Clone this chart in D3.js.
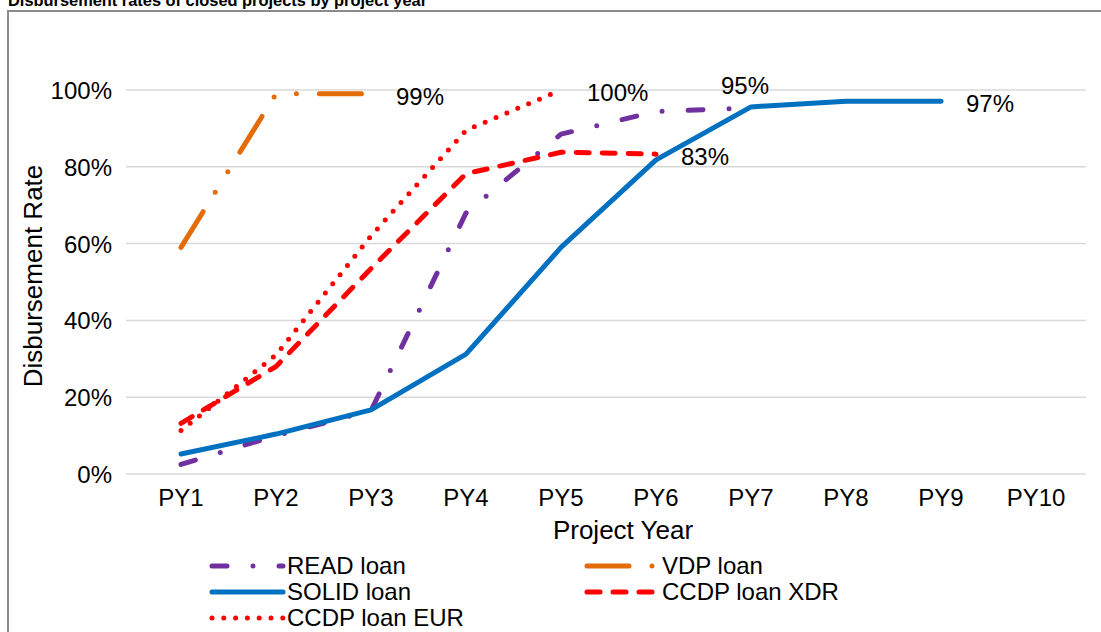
<!DOCTYPE html>
<html><head><meta charset="utf-8">
<script src="https://cdn.jsdelivr.net/npm/d3@7"></script>
<style>
html,body{margin:0;padding:0;background:#fff;overflow:hidden}
text{font-family:"Liberation Sans",Arial,sans-serif;fill:#000}
</style></head>
<body><svg id="c" width="1101" height="632"></svg>
<script>
// ---- data ----
const categories = ["PY1","PY2","PY3","PY4","PY5","PY6","PY7","PY8","PY9","PY10"];
const yTicks = [0,0.2,0.4,0.6,0.8,1.0];
const seriesNames = ["READ loan","VDP loan","SOLID loan","CCDP loan XDR","CCDP loan EUR"];
const readLoan  = [0.025,0.10,0.165,0.68,0.885,0.944,0.953];
const vdpLoan   = [0.59,0.99,0.99];
const solidLoan = [0.052,0.104,0.167,0.312,0.59,0.818,0.956,0.971,0.971];
const ccdpXdr   = [0.132,0.28,0.535,0.782,0.838,0.833];
const ccdpEur   = [0.113,0.31,0.62,0.895,1.0];
const labelTexts = ["95%","99%","97%","83%","100%"];

// ---- styles ----
const styles = [
  {color:"#7030A0", dash:"15,26,0,26"},
  {color:"#E36C09", dash:"42,23,0,24,0,23"},
  {color:"#0070C0", dash:null},
  {color:"#FF0000", dash:"13,13"},
  {color:"#FF0000", dash:"0,11.8"}
];
const allSeries = [readLoan, vdpLoan, solidLoan, ccdpXdr, ccdpEur];
// label offsets (dx from point, dy from point) for each series' last point
const labelOffsets = [[-30,-22],[25,3],[25,2],[25,2],[26,3]];

const svg = d3.select("#c");
const x = d3.scaleBand().domain(categories).range([133.5,1083.5]).padding(0);
const xc = c => x(c) + x.bandwidth()/2;
const y = d3.scaleLinear().domain([0,1]).range([474,90]);

// chart frame
svg.append("rect").attr("x",8).attr("y",11).attr("width",1110).attr("height",640)
  .attr("fill","none").attr("stroke","#8a8a8a").attr("stroke-width",2);

// title
svg.append("text").attr("x",8).attr("y",6).attr("font-size",16.4).attr("font-weight","bold")
  .text("Disbursement rates of closed projects by project year");

// gridlines
svg.append("g").selectAll("line").data(yTicks).join("line")
  .attr("x1",126).attr("x2",1086).attr("y1",d=>y(d)).attr("y2",d=>y(d))
  .attr("stroke","#d9d9d9").attr("stroke-width",1.5);

// y axis labels
const yAxis = d3.axisLeft(y).tickValues(yTicks).tickFormat(d3.format(".0%")).tickSize(0).tickPadding(0);
const gy = svg.append("g").attr("transform","translate(112,0)").call(yAxis);
gy.select(".domain").remove();
gy.selectAll("text").attr("font-size",24).attr("dy","0.35em").attr("fill","#000")
  .style("font-family","'Liberation Sans',Arial,sans-serif");

// x axis labels
const xAxis = d3.axisBottom(x).tickSize(0).tickPadding(0);
const gx = svg.append("g").attr("transform","translate(0,489)").call(xAxis);
gx.select(".domain").remove();
gx.selectAll("text").attr("font-size",24).attr("dy","0.71em").attr("fill","#000")
  .style("font-family","'Liberation Sans',Arial,sans-serif");

// axis titles
svg.append("text").attr("x",623).attr("y",539).attr("text-anchor","middle").attr("font-size",26).text("Project Year");
svg.append("text").attr("transform","translate(42,276) rotate(-90)").attr("text-anchor","middle").attr("font-size",26).text("Disbursement Rate");

// lines
const line = d3.line().x((d,i)=>xc(categories[i])).y(d=>y(d));
allSeries.forEach((s,k)=>{
  svg.append("path").datum(s).attr("d",line).attr("fill","none")
    .attr("stroke",styles[k].color).attr("stroke-width",5)
    .attr("stroke-linecap","round").attr("stroke-linejoin","round")
    .attr("stroke-dasharray",styles[k].dash);
});

// data labels
allSeries.forEach((s,k)=>{
  const i = s.length-1;
  svg.append("text").attr("x",xc(categories[i])+labelOffsets[k][0]).attr("y",y(s[i])+labelOffsets[k][1])
    .attr("dy","0.35em").attr("font-size",24).text(labelTexts[k]);
});

// legend
const legendPos = [[210,566],[585,566],[210,592],[585,592],[210,618]];
seriesNames.forEach((n,k)=>{
  const [lx,ly] = legendPos[k];
  svg.append("line").attr("x1",lx+2).attr("x2",lx+73).attr("y1",ly).attr("y2",ly)
    .attr("stroke",styles[k].color).attr("stroke-width",5)
    .attr("stroke-linecap","round").attr("stroke-dasharray",styles[k].dash);
  svg.append("text").attr("x",lx+77).attr("y",ly).attr("dy","0.35em").attr("font-size",24).text(n);
});
</script></body></html>
